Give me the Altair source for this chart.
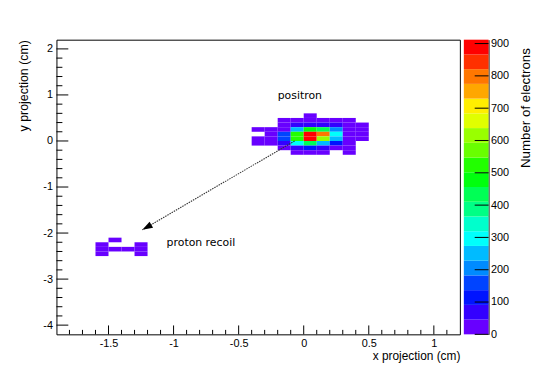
import altair as alt
import pandas as pd

# ---------------- data ----------------
# lower-left corners of 0.1 cm x 0.1 cm bins and their electron counts
cell_x = [
    0.0,
    -0.2, -0.1, 0.0, 0.1, 0.2, 0.3,
    -0.2, -0.1, 0.0, 0.1, 0.2, 0.3, 0.4,
    -0.4, -0.3, -0.2, -0.1, 0.0, 0.1, 0.2, 0.3, 0.4,
    -0.3, -0.2, -0.1, 0.0, 0.1, 0.2, 0.3, 0.4,
    -0.4, -0.3, -0.2, -0.1, 0.0, 0.1, 0.2, 0.3, 0.4,
    -0.4, -0.3, -0.2, -0.1, 0.0, 0.1, 0.2, 0.3,
    -0.2, -0.1, 0.0, 0.1, 0.2, 0.3,
    -0.1, 0.0, 0.1, 0.3,
    # proton recoil
    -1.5,
    -1.6, -1.3,
    -1.6, -1.5, -1.4, -1.3,
    -1.6, -1.3,
]
cell_y = [
    0.5,
    0.4, 0.4, 0.4, 0.4, 0.4, 0.4,
    0.3, 0.3, 0.3, 0.3, 0.3, 0.3, 0.3,
    0.2, 0.2, 0.2, 0.2, 0.2, 0.2, 0.2, 0.2, 0.2,
    0.1, 0.1, 0.1, 0.1, 0.1, 0.1, 0.1, 0.1,
    0.0, 0.0, 0.0, 0.0, 0.0, 0.0, 0.0, 0.0, 0.0,
    -0.1, -0.1, -0.1, -0.1, -0.1, -0.1, -0.1, -0.1,
    -0.2, -0.2, -0.2, -0.2, -0.2, -0.2,
    -0.3, -0.3, -0.3, -0.3,
    # proton recoil
    -2.2,
    -2.3, -2.3,
    -2.4, -2.4, -2.4, -2.4,
    -2.5, -2.5,
]
cell_n = [
    25,
    15, 30, 40, 35, 25, 12,
    20, 60, 80, 75, 50, 25, 10,
    12, 18, 40, 250, 470, 440, 215, 30, 15,
    22, 160, 510, 895, 790, 300, 40, 18,
    15, 28, 150, 525, 880, 630, 260, 35, 12,
    10, 20, 55, 290, 420, 240, 130, 30,
    30, 70, 100, 80, 40, 20,
    15, 25, 10, 10,
    # proton recoil
    25,
    30, 28,
    35, 20, 18, 32,
    22, 20,
]
BIN = 0.1

x_major = [-1.5, -1.0, -0.5, 0.0, 0.5, 1.0]
y_major = [-4, -3, -2, -1, 0, 1, 2]
z_major = [0, 100, 200, 300, 400, 500, 600, 700, 800, 900]
ZMAX = 912

palette = ["#6800ff", "#3300ff", "#0014ff", "#0044ff", "#008bff",
           "#00bbff", "#00fffc", "#00ffcc", "#00ff85", "#00ff55",
           "#00ff0e", "#22ff00", "#69ff00", "#99ff00", "#e0ff00",
           "#ffee00", "#ffa700", "#ff7700", "#ff3000", "#ff0000"]

label_text = ["positron", "proton recoil"]
label_x = [-0.03, -0.79]
label_y = [0.975, -2.225]

arrow_x = [-0.07, -1.24]
arrow_y = [0.0, -1.93]

# ---------------- layout / style ----------------
W, H = 408, 298
CBW = 25
FONT = "Liberation Sans"

edges = [ZMAX * k / 20 for k in range(21)]
zscale = alt.Scale(type="threshold", domain=edges[1:-1], range=palette)

cells = pd.DataFrame({"x0": cell_x, "y0": cell_y, "n": cell_n})
cells["x1"] = cells["x0"] + BIN
cells["y1"] = cells["y0"] + BIN

xs = alt.Scale(domain=[-1.9, 1.2], nice=False, zero=False)
ys = alt.Scale(domain=[-4.2, 2.2], nice=False, zero=False)

xaxis = alt.Axis(values=x_major, labelExpr="toString(datum.value)", ticks=False, tickSize=0,
                 domain=False, grid=False, labelFont=FONT, labelFontSize=11, labelColor="black",
                 labelPadding=3, title="x projection (cm)", titleFont=FONT, titleFontSize=12,
                 titleFontWeight="normal", titleColor="black", titleAlign="right",
                 titleBaseline="middle", titleX=W, titleY=21)
yaxis = alt.Axis(values=y_major, labelExpr="toString(datum.value)", ticks=False, tickSize=0,
                 domain=False, grid=False, labelFont=FONT, labelFontSize=11, labelColor="black",
                 labelPadding=4, title="y projection (cm)", titleFont=FONT, titleFontSize=12.5,
                 titleFontWeight="normal", titleColor="black", titleAngle=270, titleAlign="right",
                 titleBaseline="middle", titleX=-33, titleY=0)

heat = alt.Chart(cells).mark_rect().encode(
    x=alt.X("x0:Q", scale=xs, axis=xaxis),
    x2="x1:Q",
    y=alt.Y("y0:Q", scale=ys, axis=yaxis),
    y2="y1:Q",
    color=alt.Color("n:Q", scale=zscale, legend=None),
)

x_minor = [round(k * 0.1, 1) for k in range(-18, 12) if k % 5 != 0]
y_minor = [round(k * 0.2, 1) for k in range(-20, 11) if k % 5 != 0]

xt_major = alt.Chart(pd.DataFrame({"x0": x_major})).mark_rule(color="black", strokeWidth=1).encode(
    x=alt.X("x0:Q", scale=xs, axis=xaxis), y=alt.value(H), y2=alt.value(H - 9))
xt_minor = alt.Chart(pd.DataFrame({"x0": x_minor})).mark_rule(color="black", strokeWidth=1).encode(
    x=alt.X("x0:Q", scale=xs, axis=xaxis), y=alt.value(H), y2=alt.value(H - 4.5))
yt_major = alt.Chart(pd.DataFrame({"y0": y_major})).mark_rule(color="black", strokeWidth=1).encode(
    y=alt.Y("y0:Q", scale=ys, axis=yaxis), x=alt.value(0), x2=alt.value(12))
yt_minor = alt.Chart(pd.DataFrame({"y0": y_minor})).mark_rule(color="black", strokeWidth=1).encode(
    y=alt.Y("y0:Q", scale=ys, axis=yaxis), x=alt.value(0), x2=alt.value(6))

labels = alt.Chart(pd.DataFrame({"x0": label_x, "y0": label_y, "t": label_text})).mark_text(
    font="DejaVu Sans", fontSize=11, color="black", align="center", baseline="middle").encode(
    x=alt.X("x0:Q", scale=xs, axis=xaxis), y=alt.Y("y0:Q", scale=ys, axis=yaxis), text="t:N")

arrow_line = alt.Chart(pd.DataFrame({"x0": [arrow_x[0]], "y0": [arrow_y[0]],
                                     "x1": [arrow_x[1]], "y1": [arrow_y[1]]})).mark_rule(
    color="#333333", strokeWidth=1.1, strokeDash=[1.5, 1]).encode(
    x=alt.X("x0:Q", scale=xs, axis=xaxis), y=alt.Y("y0:Q", scale=ys, axis=yaxis),
    x2="x1:Q", y2="y1:Q")

arrow_head = alt.Chart(pd.DataFrame({"x0": [arrow_x[1]], "y0": [arrow_y[1]]})).mark_point(
    shape="M0,0 L-0.7,2.1 L0.7,2.1 Z", filled=True, size=100, angle=240, color="black",
    opacity=1, strokeWidth=0).encode(
    x=alt.X("x0:Q", scale=xs, axis=xaxis), y=alt.Y("y0:Q", scale=ys, axis=yaxis))

main = alt.layer(heat, xt_minor, xt_major, yt_minor, yt_major, arrow_line, arrow_head, labels).properties(
    width=W, height=H)

# ---------------- colour bar ----------------
bands = pd.DataFrame({"lo": edges[:-1], "hi": edges[1:]})
bands["mid"] = (bands["lo"] + bands["hi"]) / 2
zs = alt.Scale(domain=[0, ZMAX], nice=False, zero=False)
zaxis = alt.Axis(orient="right", values=z_major, labelExpr="toString(datum.value)", ticks=False,
                 tickSize=0, domain=True, domainColor="black", domainWidth=1, grid=False,
                 labelFont=FONT, labelFontSize=11, labelColor="black", labelPadding=2,
                 labelBaseline="middle",
                 title="Number of electrons", titleFont=FONT, titleFontSize=13.5,
                 titleFontWeight="normal", titleColor="black", titleAngle=270, titleAlign="right",
                 titleBaseline="middle", titleX=37, titleY=8)

cb_rect = alt.Chart(bands).mark_rect().encode(
    y=alt.Y("lo:Q", scale=zs, axis=zaxis), y2="hi:Q",
    x=alt.value(0), x2=alt.value(CBW),
    color=alt.Color("mid:Q", scale=zscale, legend=None))
cb_ticks = alt.Chart(pd.DataFrame({"lo": z_major})).mark_rule(color="black", strokeWidth=1).encode(
    y=alt.Y("lo:Q", scale=zs, axis=zaxis), x=alt.value(CBW - 14), x2=alt.value(CBW))

cbar = alt.layer(cb_rect, cb_ticks).properties(width=CBW, height=H,
                                               view=alt.ViewBackground(stroke=None))

chart = alt.hconcat(main, cbar, spacing=3).properties(
    padding={"left": 9, "top": 27, "right": 5, "bottom": 5},
    background="white",
).configure_view(stroke="black", strokeWidth=1).resolve_scale(color="shared")

chart.save("out.html", embed_options={"renderer": "svg", "actions": False})
